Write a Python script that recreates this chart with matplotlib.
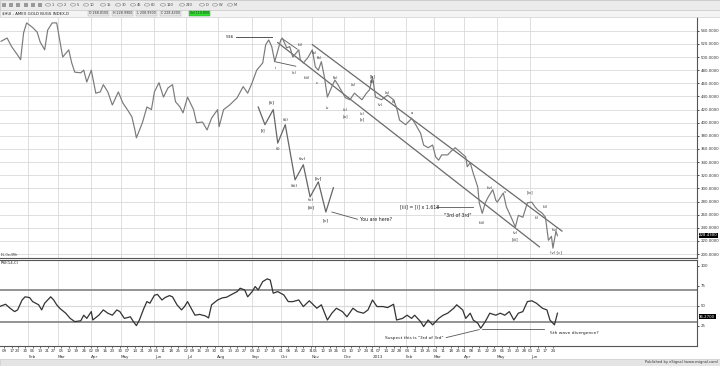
import matplotlib
matplotlib.use('Agg')
import matplotlib.pyplot as plt
import matplotlib.transforms as mtransforms
from matplotlib.patches import Rectangle, Circle
import numpy as np
import pandas as pd

# $HUI daily closes; bar = trading day number (0 = 2012-01-03)
price_bar = [2, 6, 9, 13, 15, 17, 19, 23, 26, 28, 31, 33, 36, 39, 41, 43, 47, 49, 51, 55,
             57, 59, 62, 65, 68, 70, 73, 76, 80, 83, 86, 89, 91, 92, 96, 99, 102, 104, 107, 110,
             113, 116, 118, 121, 123, 126, 130, 132, 136, 139, 142, 146, 147, 150, 154, 159, 163, 166, 169, 172,
             176, 178, 180, 182, 184, 188, 189, 192, 194, 196, 200, 201, 203, 206, 209, 211, 213, 215, 217, 219,
             222, 224, 226, 231, 234, 237, 242, 245, 247, 249, 251, 255, 259, 263, 265, 267, 271, 274, 275, 277,
             281, 283, 286, 289, 291, 293, 295, 299, 301, 304, 307, 311, 312, 314, 316, 319, 320, 322, 324, 326,
             329, 331, 332, 336, 338, 342, 344, 346, 349, 352, 355, 357, 359, 362, 364, 366, 368, 369, 371, 372]
price_close = [524, 529, 516, 503, 496, 537, 552, 545, 538, 523, 511, 541, 552, 552, 526, 500, 511, 491, 477, 476,
               480, 462, 480, 445, 447, 458, 447, 427, 447, 430, 420, 409, 389, 377, 400, 424, 420, 447, 461, 439,
               453, 458, 432, 424, 415, 439, 420, 400, 401, 389, 407, 420, 394, 420, 427, 438, 455, 445, 461, 480,
               491, 519, 526, 516, 493, 526, 529, 514, 516, 500, 511, 496, 491, 499, 511, 485, 480, 493, 470, 439,
               455, 465, 458, 438, 435, 445, 435, 445, 450, 470, 439, 435, 442, 435, 423, 404, 397, 404, 407, 400,
               384, 366, 362, 366, 348, 343, 351, 351, 356, 362, 356, 348, 333, 339, 323, 302, 278, 262, 278, 287,
               298, 282, 279, 293, 272, 252, 241, 259, 256, 278, 279, 272, 267, 262, 256, 221, 227, 209, 235, 228]

# RSI(14)
rsi_bar = [1, 5, 8, 11, 13, 16, 18, 21, 23, 27, 29, 31, 35, 37, 39, 41, 45, 48, 51, 55,
           57, 59, 62, 63, 67, 70, 73, 76, 79, 81, 84, 88, 90, 92, 94, 97, 99, 101, 104, 106,
           109, 111, 114, 116, 119, 122, 124, 126, 129, 131, 134, 138, 140, 142, 146, 149, 152, 156, 159, 161,
           164, 166, 169, 171, 173, 176, 179, 181, 183, 186, 190, 193, 196, 200, 203, 207, 212, 215, 219, 222,
           225, 229, 232, 236, 239, 243, 246, 249, 252, 256, 259, 263, 265, 269, 272, 275, 277, 281, 283, 286,
           289, 293, 296, 299, 303, 305, 309, 311, 314, 316, 319, 321, 324, 327, 331, 334, 337, 340, 343, 346,
           349, 352, 355, 358, 362, 365, 367, 370, 372]
rsi_val = [48.8, 51.7, 46.7, 42.5, 44.6, 57, 61, 60, 55, 51, 44.6, 53, 61, 57, 51, 46.7, 40.5, 34, 30, 31,
           38, 34, 42.5, 32, 38, 44.6, 40.5, 38, 44.6, 42.5, 34, 36, 30, 25, 32, 46.7, 55, 53, 63, 64,
           57, 60, 62.5, 61, 51, 44.6, 48.8, 55, 44.6, 38, 39, 37, 34.6, 51, 57, 59.6, 60.5, 64.6, 67.5, 71.7,
           69.6, 61, 67.5, 73.8, 69.6, 80, 83.4, 82, 65.5, 67.5, 63.4, 55, 55, 57, 48.8, 56, 46.7, 51, 32, 40.5,
           46.7, 42.5, 36, 46.7, 42.5, 40.5, 44.6, 57, 48.8, 48.8, 47.5, 51.7, 32, 34, 38, 34, 38, 30, 23.8, 32,
           25.9, 34, 38, 40.5, 46.7, 51, 44.6, 34, 40.5, 32, 28, 21.7, 30, 40.5, 38, 40.5, 38, 42.5, 32, 40.5,
           42.5, 55, 56, 53, 46.7, 44.6, 32, 25.9, 40.5]

price_ticks = list(range(200, 541, 20))
rsi_ticks = [25, 50, 75, 100]
last_price = 228.43
last_rsi = 36.27

nyse_holidays = ['2012-01-16', '2012-02-20', '2012-04-06', '2012-05-28', '2012-07-04',
                 '2012-09-03', '2012-10-29', '2012-10-30', '2012-11-22', '2012-12-25',
                 '2013-01-01', '2013-01-21', '2013-02-18', '2013-03-29', '2013-05-27']

# Elliott wave count drawn on the chart (bar, price)
channel_upper = [(209, 519), (375, 235)]
channel_lower = [(186, 522), (360, 211)]
projection_bar = [173, 177.5, 183, 186, 191, 197.5, 203, 207.5, 213, 218, 223]
projection_px = [424, 397, 420, 369, 397, 313, 336, 287, 310, 264, 301]
projection_labels = [('[ii]', 182, 431), ('[i]', 176, 388), ('(ii)', 191, 404), ('(i)', 186, 360),
                     ('(iv)', 202, 344), ('(iii)', 197, 304), ('[iv]', 213, 316), ('(v)', 208, 282),
                     ('[iii]', 208, 271), ('[v]', 218, 251)]
wave_labels = [('(ii)', 201, 519), ('(a)', 210, 506), ('i', 184, 484), ('(c)', 197, 476),
               ('(b)', 214, 499), ('(iii)', 205, 468), ('c', 212, 461), ('iv', 219, 423),
               ('(b)', 224, 468), ('(c)', 231, 420), ('[a]', 231, 410), ('(a)', 236, 458),
               ('(c)', 242, 413), ('[b]', 249, 470), ('(b)', 249, 462), ('(v)', 254, 427),
               ('[c]', 242, 405), ('(a)', 259, 445), ('(i)', 263, 432), ('a', 275, 415),
               ('(iv)', 327, 300), ('v', 337, 294), ('(iii)', 322, 247), ('(v)', 344, 232),
               ('[iii]', 344, 223), ('[iv]', 354, 294), ('(ii)', 364, 272), ('(i)', 358, 255),
               ('(iv)', 370, 236), ('(v) [c]', 371, 202)]

dates = pd.bdate_range('2012-01-03', '2013-06-28', freq='C', holidays=nyse_holidays)
pos = pd.Series(np.arange(len(dates)), index=dates)
week_pos = pos.groupby(dates.to_period('W')).first().values[1:]
month_pos = pos.groupby(dates.to_period('M')).first().values
month_names = ['Jan', 'Feb', 'Mar', 'Apr', 'May', 'Jun', 'Jul', 'Aug', 'Sep', 'Oct', 'Nov', 'Dec',
               '2013', 'Feb', 'Mar', 'Apr', 'May', 'Jun']

grid_c = '#d9d9d9'
fs_axis = 2.8

fig = plt.figure(figsize=(7.2, 3.66), dpi=100)
fig.patch.set_facecolor('white')

# toolbar / header strip
fig.add_artist(Rectangle((0, 1 - 10 / 366), 1, 10 / 366, transform=fig.transFigure,
                         facecolor='#ebebeb', edgecolor='#bdbdbd', lw=0.5))
fig.add_artist(Rectangle((0, 1 - 17 / 366), 1, 7 / 366, transform=fig.transFigure,
                         facecolor='#f4f4f4', edgecolor='#c8c8c8', lw=0.4))
for i, lab in enumerate(['1', '2', '5', '10', '15', '30', '45', '60', '120', '240', 'D', 'W', 'M']):
    xc = [48, 60, 73, 86, 103, 118, 133, 147, 163, 182, 202, 215, 230][i]
    fig.add_artist(Circle((xc / 720, 1 - 4.8 / 366), 2.6 / 720, transform=fig.transFigure,
                          facecolor='none', edgecolor='#888888', lw=0.4))
    fig.text((xc + 4) / 720, 1 - 4.8 / 366, lab, fontsize=2.6, va='center', color='#444444')
for xc in [4, 11, 18, 26, 33, 40]:
    fig.add_artist(Rectangle(((xc - 2) / 720, 1 - 7 / 366), 4 / 720, 4 / 366,
                             transform=fig.transFigure, facecolor='#9a9a9a', edgecolor='none'))
fig.text(2 / 720, 1 - 13.5 / 366, '$HUI - AMEX GOLD BUGS INDEX,D', fontsize=2.8, va='center',
         color='#222222')
for xl, txt in [(89, 'O 268.8100'), (113, 'H 228.9900'), (137, 'L 208.9900'), (161, 'C 228.4300')]:
    fig.text(xl / 720, 1 - 13.5 / 366, txt, fontsize=2.3, va='center', color='#333333',
             bbox=dict(boxstyle='square,pad=0.25', facecolor='#e6e6e6', edgecolor='#b0b0b0', lw=0.3))
fig.text(190 / 720, 1 - 13.5 / 366, 'Vol 110,800', fontsize=2.3, va='center', color='#114411',
         bbox=dict(boxstyle='square,pad=0.25', facecolor='#33dd33', edgecolor='#229922', lw=0.3))

# price panel
ax = fig.add_axes([0, 1 - 258 / 366, 697 / 720, 241 / 366])
ax.set_xlim(1.3, 464.8)
ax.set_ylim(194, 561)
for y in price_ticks:
    ax.axhline(y, color=grid_c, lw=0.6, zorder=0)
for m in month_pos:
    ax.axvline(m, color=grid_c, lw=0.6, zorder=0)
ax.plot(price_bar, price_close, color='#7a7a7a', lw=0.85, zorder=3)

ax.plot(*zip(*channel_upper), color='#6a6a6a', lw=0.9)
ax.plot(*zip(*channel_lower), color='#6a6a6a', lw=0.9)
ax.plot([158, 182], [531, 531], color='#555555', lw=0.7)
ax.text(157, 531, '536', fontsize=3.2, ha='right', va='center', color='#222222')
ax.plot([184, 198], [493, 486], color='#555555', lw=0.6)
ax.plot([189, 199], [528, 512], color='#555555', lw=0.6)

ax.plot(projection_bar, projection_px, color='#666666', lw=0.9)
for txt, b, p in projection_labels:
    ax.text(b, p, txt, fontsize=3.2, ha='center', va='center', color='#222222')
for txt, b, p in wave_labels:
    ax.text(b, p, txt, fontsize=2.8, ha='center', va='center', color='#333333')

ax.plot([222, 239], [264, 253], color='#555555', lw=0.6)
ax.text(241, 252, 'You are here?', fontsize=3.4, ha='left', va='center', color='#222222')
ax.text(267, 272, '[iii] = [i] x 1.618', fontsize=3.4, ha='left', va='center', color='#222222')
ax.plot([291, 316], [272, 272], color='#555555', lw=0.6)
ax.text(306, 258, '"3rd of 3rd"', fontsize=3.4, ha='center', va='center', color='#222222')
ax.text(2, 196, 'EL Osc/Wfr', fontsize=2.2, ha='left', va='bottom', color='#333333')

ax.yaxis.tick_right()
ax.set_yticks(price_ticks)
ax.set_yticklabels([f'{t:.4f}' for t in price_ticks], fontsize=fs_axis, color='#333333')
ax.tick_params(axis='y', length=1.5, width=0.5, pad=1)
ax.set_xticks([])
for s in ['left', 'top']:
    ax.spines[s].set_visible(False)
ax.spines['right'].set_color('#555555')
ax.spines['bottom'].set_color('#555555')
ax.spines['right'].set_linewidth(0.8)
ax.spines['bottom'].set_linewidth(0.8)
ax.text(1.003, last_price, f'{last_price:.4f}',
        transform=mtransforms.blended_transform_factory(ax.transAxes, ax.transData),
        fontsize=fs_axis, color='white', va='center', ha='left',
        bbox=dict(boxstyle='square,pad=0.15', facecolor='black', edgecolor='none'))

# RSI panel
ax2 = fig.add_axes([0, 1 - 346 / 366, 697 / 720, 86 / 366])
ax2.set_xlim(1.3, 464.8)
ax2.set_ylim(-0.5, 107)
for m in month_pos:
    ax2.axvline(m, color=grid_c, lw=0.6, zorder=0)
ax2.axhline(50, color=grid_c, lw=0.8, zorder=0)
for lvl in [70, 30]:
    ax2.axhline(lvl, color='#8a8a8a', lw=1.3, zorder=1)
ax2.plot(rsi_bar, rsi_val, color='#333333', lw=0.9, zorder=3)
ax2.text(2, 103, 'RSI(14,C)', fontsize=2.8, ha='left', va='center', color='#222222')

ax2.plot([322, 363], [21, 21], color='#555555', lw=0.6)
ax2.text(367, 16, '5th wave divergence?', fontsize=3.2, ha='left', va='center', color='#222222')
ax2.plot([298, 320], [10, 20], color='#555555', lw=0.6)
ax2.text(296, 10, 'Suspect this is "3rd of 3rd"', fontsize=3.2, ha='right', va='center',
         color='#222222')

ax2.yaxis.tick_right()
ax2.set_yticks(rsi_ticks)
ax2.set_yticklabels([str(t) for t in rsi_ticks], fontsize=fs_axis, color='#333333')
ax2.tick_params(axis='y', length=1.5, width=0.5, pad=1)
ax2.text(1.003, last_rsi, f'{last_rsi:.4f}',
         transform=mtransforms.blended_transform_factory(ax2.transAxes, ax2.transData),
         fontsize=fs_axis, color='white', va='center', ha='left',
         bbox=dict(boxstyle='square,pad=0.15', facecolor='black', edgecolor='none'))
for s in ['left']:
    ax2.spines[s].set_visible(False)
for s in ['right', 'bottom', 'top']:
    ax2.spines[s].set_color('#555555')
    ax2.spines[s].set_linewidth(0.8)

ax2.set_xticks(week_pos)
ax2.set_xticklabels([d.strftime('%d') for d in dates[week_pos]], fontsize=2.9, color='#333333')
ax2.tick_params(axis='x', length=1.5, width=0.4, pad=0.8)
trans = ax2.get_xaxis_transform()
for m, name in zip(month_pos[1:], month_names[1:]):
    ax2.text(m + 2.5, -0.13, name, transform=trans, fontsize=3.0, ha='center', va='center',
             color='#333333')

# status bar
fig.add_artist(Rectangle((0, 0), 1, 7 / 366, transform=fig.transFigure,
                         facecolor='#e4e4e4', edgecolor='#c0c0c0', lw=0.4))
fig.text(718 / 720, 3.5 / 366, 'Published by eSignal (www.esignal.com)', fontsize=2.6,
         ha='right', va='center', color='#333333')

fig.savefig('out.png', dpi=100)
